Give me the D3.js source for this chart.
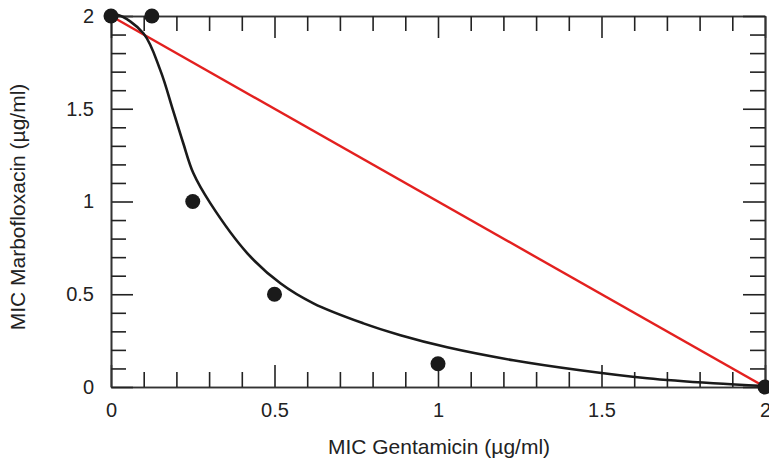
<!DOCTYPE html>
<html>
<head>
<meta charset="utf-8">
<script src="https://cdn.jsdelivr.net/npm/d3@7"></script>
<style>
  body { margin: 0; background: #fff; }
  text { font-family: "Liberation Sans", Arial, sans-serif; fill: #222; }
</style>
</head>
<body>
<script>
// measured points (µg/ml)
const gentamicin = [0, 0.125, 0.25, 0.5, 1, 2];
const marbofloxacin = [2, 2, 1, 0.5, 0.125, 0];

// fitted isobole curve
const curveX = [0, 0.022, 0.099, 0.151, 0.19, 0.221, 0.252, 0.304, 0.417, 0.518, 0.619, 0.772, 0.885, 1.028, 1.23, 1.435, 1.64, 1.842, 2];
const curveY = [2, 2.005, 1.907, 1.707, 1.49, 1.314, 1.152, 0.99, 0.721, 0.559, 0.451, 0.343, 0.279, 0.214, 0.144, 0.09, 0.047, 0.02, 0.005];

// additivity line
const lineX = [0, 2];
const lineY = [2, 0];

const majorTicks = [0, 0.5, 1, 1.5, 2];
const tickLabels = ["0", "0.5", "1", "1.5", "2"];
const minorTicks = d3.range(0, 21).map(i => i / 10).filter(v => !majorTicks.includes(v));

const w = 769, h = 462;
const svg = d3.select("body").append("svg")
    .attr("width", w)
    .attr("height", h);

const x = d3.scaleLinear().domain([0, 2]).range([111, 765]);
const y = d3.scaleLinear().domain([0, 2]).range([387, 16]);

// axes on all four sides, ticks pointing in
function drawAxis(gen, tx, ty, ticks, size, labels) {
    const a = gen.tickValues(ticks).tickSizeInner(-size).tickSizeOuter(0)
        .tickFormat(labels ? ((d, i) => tickLabels[majorTicks.indexOf(d)]) : "");
    const g = svg.append("g").attr("transform", `translate(${tx},${ty})`).call(a);
    g.selectAll("line").attr("stroke", "#222").attr("stroke-width", 1.6);
    g.select(".domain").attr("stroke", "#333").attr("stroke-width", 1.6);
    g.selectAll("text").style("font-size", "20px").attr("fill", "#222");
    return g;
}

const xb = drawAxis(d3.axisBottom(x), 0, y(0), majorTicks, 22, true);
xb.selectAll("text").attr("dy", 0).attr("y", 30);
drawAxis(d3.axisBottom(x), 0, y(0), minorTicks, 15, false);
const yl = drawAxis(d3.axisLeft(y), x(0), 0, majorTicks, 22, true);
yl.selectAll("text").attr("x", -17);
drawAxis(d3.axisLeft(y), x(0), 0, minorTicks, 15, false);
drawAxis(d3.axisTop(x), 0, y(2), majorTicks, 22, false);
drawAxis(d3.axisTop(x), 0, y(2), minorTicks, 15, false);
drawAxis(d3.axisRight(y), x(2), 0, majorTicks, 22, false);
drawAxis(d3.axisRight(y), x(2), 0, minorTicks, 15, false);

// red additivity line
svg.append("path")
    .datum(lineX.map((d, i) => [d, lineY[i]]))
    .attr("d", d3.line().x(d => x(d[0])).y(d => y(d[1])))
    .attr("fill", "none")
    .attr("stroke", "#e3201f")
    .attr("stroke-width", 2.4);

// black curve
svg.append("path")
    .datum(curveX.map((d, i) => [d, curveY[i]]))
    .attr("d", d3.line().x(d => x(d[0])).y(d => y(d[1])).curve(d3.curveCatmullRom))
    .attr("fill", "none")
    .attr("stroke", "#1a1a1a")
    .attr("stroke-width", 2.6);

// points
svg.selectAll("circle")
    .data(gentamicin.map((d, i) => [d, marbofloxacin[i]]))
    .enter()
    .append("circle")
    .attr("cx", d => x(d[0]))
    .attr("cy", d => y(d[1]))
    .attr("r", 7.5)
    .attr("fill", "#1a1a1a");

// axis titles
svg.append("text")
    .attr("x", 439)
    .attr("y", 454)
    .attr("text-anchor", "middle")
    .style("font-size", "21px")
    .text("MIC Gentamicin (µg/ml)");

svg.append("text")
    .attr("transform", "translate(25,207) rotate(-90)")
    .attr("text-anchor", "middle")
    .style("font-size", "21px")
    .text("MIC Marbofloxacin (µg/ml)");
</script>
</body>
</html>
